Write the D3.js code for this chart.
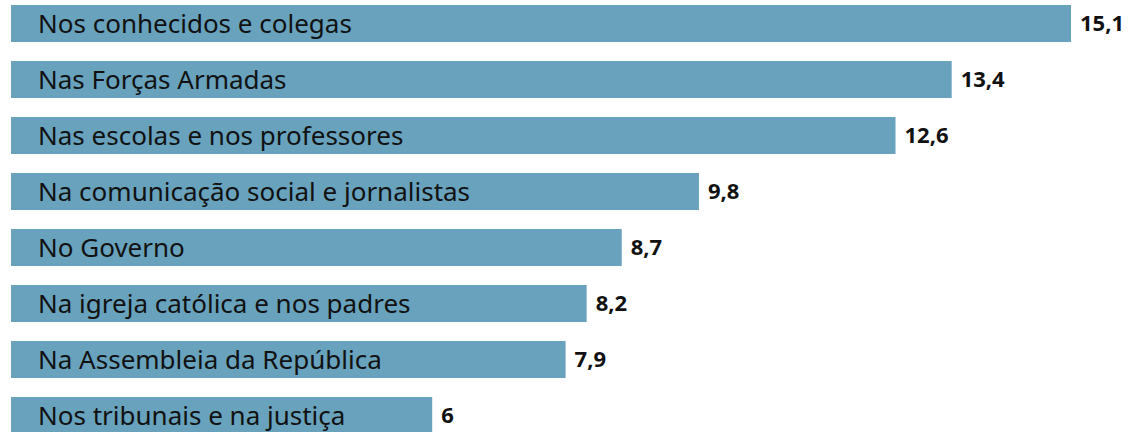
<!DOCTYPE html>
<html>
<head>
<meta charset="utf-8">
<script src="https://cdn.jsdelivr.net/npm/d3@7"></script>
<style>
  html, body { margin: 0; padding: 0; background: #fff; }
  svg { display: block; }
</style>
</head>
<body>
<svg id="chart" width="1129" height="432"></svg>
<script>
// Trust levels by institution
const categories = [
  "Nos conhecidos e colegas",
  "Nas Forças Armadas",
  "Nas escolas e nos professores",
  "Na comunicação social e jornalistas",
  "No Governo",
  "Na igreja católica e nos padres",
  "Na Assembleia da República",
  "Nos tribunais e na justiça"
];
const values = [15.1, 13.4, 12.6, 9.8, 8.7, 8.2, 7.9, 6];
const valueLabels = ["15,1", "13,4", "12,6", "9,8", "8,7", "8,2", "7,9", "6"];

const svg = d3.select("#chart");

const x = d3.scaleLinear().domain([0, 15.1]).range([11, 1071]);
// 56px per row, 37px bars
const y = d3.scaleBand()
  .domain(categories)
  .range([-4.5, -4.5 + 56 * categories.length])
  .paddingInner(19 / 56)
  .paddingOuter(19 / 112);

const rows = svg.selectAll("g.row")
  .data(categories.map((c, i) => ({ c, v: values[i], label: valueLabels[i] })))
  .join("g")
  .attr("class", "row");

rows.append("rect")
  .attr("x", x(0))
  .attr("y", d => y(d.c))
  .attr("width", d => x(d.v) - x(0))
  .attr("height", y.bandwidth())
  .attr("fill", "#68a2bd");

rows.append("text")
  .attr("x", 38)
  .attr("y", d => y(d.c) + y.bandwidth() / 2)
  .attr("dy", "0.35em")
  .attr("font-family", "'Noto Sans', sans-serif")
  .attr("font-size", 26)
  .attr("fill", "#111")
  .text(d => d.c);

rows.append("text")
  .attr("x", d => x(d.v) + 9)
  .attr("y", d => y(d.c) + y.bandwidth() / 2)
  .attr("dy", "0.35em")
  .attr("font-family", "'Noto Sans', sans-serif")
  .attr("font-weight", "bold")
  .attr("font-size", 22)
  .attr("fill", "#111")
  .text(d => d.label);
</script>
</body>
</html>
